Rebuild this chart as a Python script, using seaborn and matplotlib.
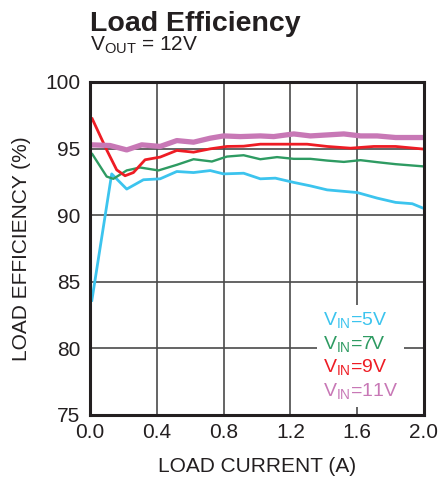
import matplotlib
matplotlib.use("Agg")
import matplotlib.pyplot as plt
import seaborn as sns
import pandas as pd

sns.set_theme(style="white")
plt.rcParams["font.family"] = ["Liberation Sans", "DejaVu Sans"]
plt.rcParams["mathtext.default"] = "regular"

# Efficiency curves, VOUT = 12V
x_5v = [0.01, 0.13, 0.22, 0.32, 0.42, 0.52, 0.62, 0.72, 0.80, 0.92, 1.02, 1.11,
        1.22, 1.32, 1.42, 1.60, 1.72, 1.83, 1.93, 2.00]
y_5v = [83.5, 93.1, 91.96, 92.66, 92.73, 93.28, 93.2, 93.35, 93.1, 93.15, 92.73, 92.78,
        92.46, 92.2, 91.9, 91.7, 91.28, 90.96, 90.86, 90.5]

x_7v = [0.01, 0.10, 0.14, 0.22, 0.30, 0.41, 0.52, 0.62, 0.73, 0.82, 0.92, 1.02,
        1.12, 1.22, 1.32, 1.42, 1.52, 1.62, 1.72, 1.83, 2.00]
y_7v = [94.66, 92.9, 92.73, 93.36, 93.58, 93.36, 93.78, 94.2, 94.03, 94.4, 94.5, 94.2,
        94.36, 94.23, 94.23, 94.1, 94.0, 94.13, 93.98, 93.83, 93.66]

x_9v = [0.01, 0.10, 0.16, 0.21, 0.26, 0.33, 0.42, 0.52, 0.62, 0.72, 0.82, 0.92,
        1.02, 1.12, 1.30, 1.42, 1.56, 1.70, 1.83, 2.00]
y_9v = [97.33, 94.9, 93.4, 92.96, 93.2, 94.16, 94.36, 94.86, 94.73, 94.98, 95.16, 95.18,
        95.33, 95.33, 95.33, 95.16, 95.03, 95.16, 95.16, 94.96]

x_11v = [0.01, 0.12, 0.22, 0.31, 0.42, 0.52, 0.62, 0.72, 0.80, 0.90, 1.02, 1.10,
         1.22, 1.32, 1.52, 1.62, 1.72, 1.83, 2.00]
y_11v = [95.28, 95.23, 94.9, 95.28, 95.16, 95.6, 95.48, 95.78, 95.95, 95.9, 95.95, 95.9,
         96.1, 95.95, 96.1, 95.95, 95.95, 95.83, 95.83]

series_names = [r"$V_{IN}$=5V", r"$V_{IN}$=7V", r"$V_{IN}$=9V", r"$V_{IN}$=11V"]
series_x = [x_5v, x_7v, x_9v, x_11v]
series_y = [y_5v, y_7v, y_9v, y_11v]
colors = ["#3cc4ee", "#2e9b62", "#ee1c24", "#c878b6"]
widths = [2.0, 1.7, 2.0, 3.8]

x_ticks = [0.0, 0.4, 0.8, 1.2, 1.6, 2.0]
y_ticks = [75, 80, 85, 90, 95, 100]

ink = "#231f20"
fig = plt.figure(figsize=(4.4, 4.78), dpi=100)
ax = fig.add_axes([0.2045, 0.1318, 0.7591, 0.6967])

for name, xs, ys, c, w in zip(series_names, series_x, series_y, colors, widths):
    df = pd.DataFrame({"current": xs, "eff": ys})
    sns.lineplot(data=df, x="current", y="eff", ax=ax, color=c, linewidth=w,
                 label=name, zorder=3, solid_capstyle="butt")

ax.set_xlim(0, 2.0)
ax.set_ylim(75, 100)
ax.set_xticks(x_ticks)
ax.set_yticks(y_ticks)
ax.set_xticklabels([f"{v:.1f}" for v in x_ticks])
ax.set_yticklabels([str(v) for v in y_ticks])
ax.tick_params(axis="both", length=0, labelsize=15, labelcolor=ink)
ax.tick_params(axis="x", pad=6)
ax.tick_params(axis="y", pad=7)
ax.grid(True, color="#4a4a4a", linewidth=1.2)
ax.set_axisbelow(True)
for s in ax.spines.values():
    s.set_color(ink)
    s.set_linewidth(2.2)
    s.set_zorder(5)

ax.set_xlabel("LOAD CURRENT (A)", fontsize=15, color=ink)
ax.set_ylabel("LOAD EFFICIENCY (%)", fontsize=15, color=ink)
ax.xaxis.set_label_coords(0.5, -0.125)
ax.yaxis.set_label_coords(-0.178, 0.5)

leg = ax.legend(loc="lower right", bbox_to_anchor=(0.94, 0.025), handlelength=0,
                handletextpad=0, labelcolor="linecolor", frameon=True,
                facecolor="white", edgecolor="none", framealpha=1,
                fontsize=14, labelspacing=0.18, borderpad=0.3, borderaxespad=0)
for h in leg.legend_handles:
    h.set_visible(False)
leg.set_zorder(4)

fig.text(90 / 440, 1 - 31 / 478, "Load Efficiency", fontsize=20.5, fontweight="bold",
         color=ink, ha="left", va="baseline")
fig.text(90 / 440, 1 - 51 / 478, r"$V_{OUT}$ = 12V", fontsize=15, color=ink,
         ha="left", va="baseline")

fig.savefig("out.png", dpi=100, facecolor="white")
